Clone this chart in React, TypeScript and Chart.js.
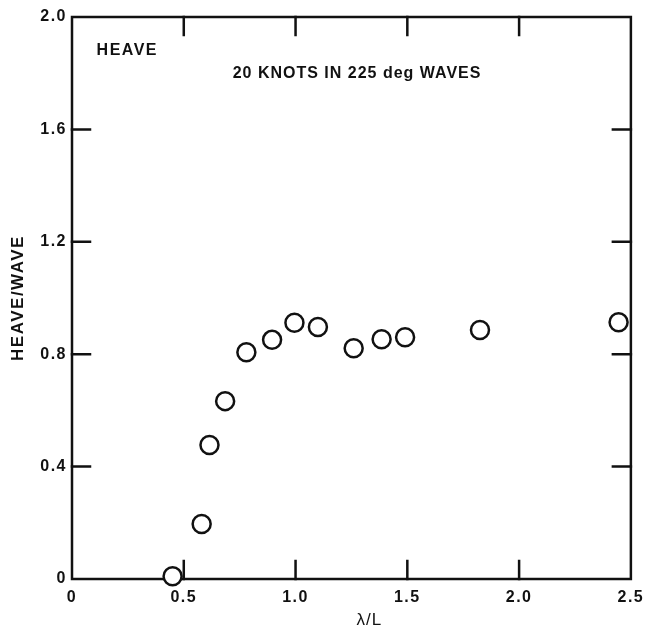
import React, { useEffect, useRef } from "react";
import { Chart, registerables } from "chart.js";

Chart.register(...registerables);

const xValues = [0.45, 0.58, 0.615, 0.685, 0.78, 0.895, 0.995, 1.1, 1.26, 1.385, 1.49, 1.825, 2.445];
const yValues = [0.01, 0.196, 0.477, 0.633, 0.807, 0.851, 0.912, 0.897, 0.821, 0.853, 0.86, 0.886, 0.914];
const xTickValues = [0, 0.5, 1.0, 1.5, 2.0, 2.5];
const yTickValues = [0, 0.4, 0.8, 1.2, 1.6, 2.0];
const panelLabel = "HEAVE";
const subtitle = "20 KNOTS IN 225 deg WAVES";
const xTitle = "λ/L";
const yTitle = "HEAVE/WAVE";

const FONT = "'Liberation Sans', Arial, Helvetica, sans-serif";
const INK = "#111";

const fmt = (v: number) => (v === 0 ? "0" : v.toFixed(1));

const framePlugin = {
  id: "frame",
  beforeDraw(chart: any) {
    chart.ctx.letterSpacing = "1.5px";
  },
  beforeDatasetsDraw(chart: any) {
    const { ctx, chartArea, scales } = chart;
    const { left, right, top, bottom } = chartArea;
    const x = scales.x;
    const y = scales.y;
    ctx.save();
    ctx.strokeStyle = INK;
    ctx.lineWidth = 2.5;
    ctx.lineCap = "square";
    ctx.strokeRect(left, top, right - left, bottom - top);
    ctx.beginPath();
    const TL = 18;
    x.ticks.forEach((t: any) => {
      if (t.value <= x.min || t.value >= x.max) return;
      const px = x.getPixelForValue(t.value);
      ctx.moveTo(px, bottom);
      ctx.lineTo(px, bottom - TL);
      ctx.moveTo(px, top);
      ctx.lineTo(px, top + TL);
    });
    y.ticks.forEach((t: any) => {
      if (t.value <= y.min || t.value >= y.max) return;
      const py = y.getPixelForValue(t.value);
      ctx.moveTo(left, py);
      ctx.lineTo(left + TL, py);
      ctx.moveTo(right, py);
      ctx.lineTo(right - TL, py);
    });
    ctx.stroke();
    ctx.restore();
  },
  afterDraw(chart: any) {
    const { ctx, scales } = chart;
    const x = scales.x;
    const y = scales.y;
    ctx.save();
    ctx.fillStyle = INK;
    ctx.letterSpacing = "1.5px";
    ctx.font = `bold 16px ${FONT}`;
    ctx.textBaseline = "middle";
    ctx.textAlign = "left";
    ctx.fillText(panelLabel, x.getPixelForValue(0.11), y.getPixelForValue(1.88));
    ctx.letterSpacing = "1px";
    ctx.textAlign = "center";
    ctx.fillText(subtitle, x.getPixelForValue(1.275), y.getPixelForValue(1.797));
    ctx.font = `17px ${FONT}`;
    ctx.fillText(xTitle, x.getPixelForValue(1.33), chart.height - 19);
    ctx.restore();
  },
};

export default function App() {
  const ref = useRef<HTMLCanvasElement | null>(null);
  useEffect(() => {
    if (!ref.current) return;
    const chart = new Chart(ref.current, {
      type: "scatter",
      data: {
        datasets: [
          {
            data: xValues.map((v, i) => ({ x: v, y: yValues[i] })),
            pointStyle: "circle",
            pointRadius: 9,
            pointHoverRadius: 9,
            pointBorderWidth: 2.5,
            pointBackgroundColor: "#fff",
            pointBorderColor: INK,
            showLine: false,
            clip: false as any,
          },
        ],
      },
      options: {
        animation: false,
        responsive: false,
        devicePixelRatio: 1,
        layout: { padding: { left: 0, top: 17, right: 18, bottom: 0 } },
        plugins: { legend: { display: false }, tooltip: { enabled: false } },
        scales: {
          x: {
            type: "linear",
            min: 0,
            max: 2.5,
            afterBuildTicks: (s: any) => {
              s.ticks = xTickValues.map((v) => ({ value: v }));
            },
            afterFit: (s: any) => {
              s.height = 60;
            },
            grid: { display: false, drawTicks: false },
            border: { display: false },
            ticks: {
              color: INK,
              padding: 9,
              font: { family: FONT, size: 16, weight: "bold" },
              callback: (v: any) => fmt(Number(v)),
              maxRotation: 0,
            },
          },
          y: {
            type: "linear",
            min: 0,
            max: 2.0,
            afterBuildTicks: (s: any) => {
              s.ticks = yTickValues.map((v) => ({ value: v }));
            },
            afterFit: (s: any) => {
              s.width = 72;
            },
            grid: { display: false, drawTicks: false },
            border: { display: false },
            ticks: {
              color: INK,
              padding: 5,
              font: { family: FONT, size: 16, weight: "bold" },
              callback: (v: any) => fmt(Number(v)),
            },
            title: {
              display: true,
              text: yTitle,
              color: INK,
              padding: { top: 8, bottom: 0 },
              font: { family: FONT, size: 17, weight: "bold" },
            },
          },
        },
      },
      plugins: [framePlugin],
    });
    return () => chart.destroy();
  }, []);
  return (
    <div style={{ position: "fixed", left: 0, top: 0, width: 651, height: 639, background: "#fff" }}>
      <canvas ref={ref} width={651} height={639} style={{ width: 651, height: 639 }} />
    </div>
  );
}
